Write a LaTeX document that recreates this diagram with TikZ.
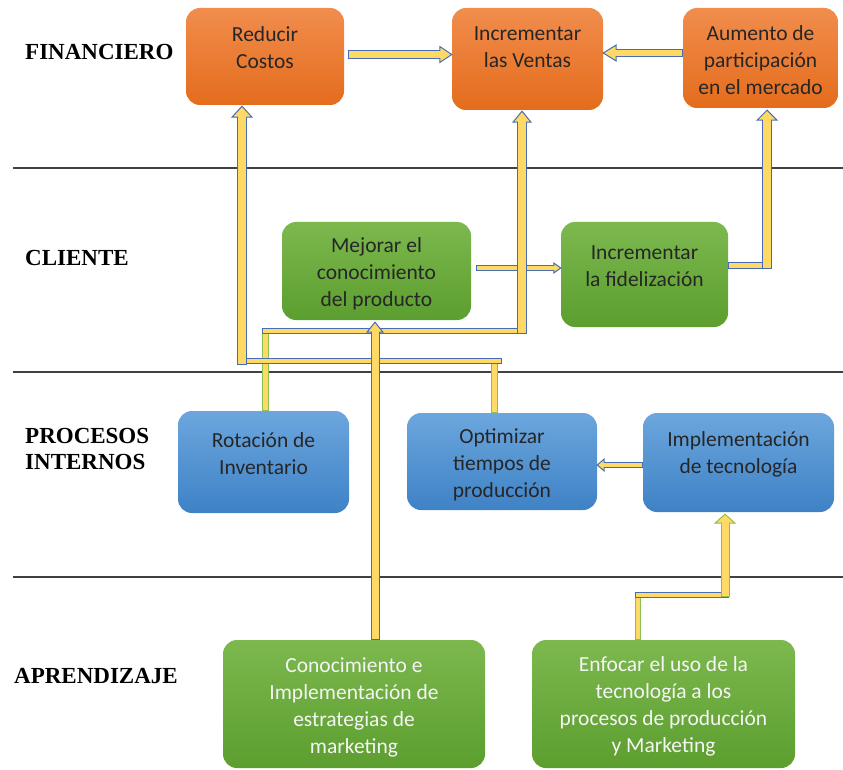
\documentclass[tikz,border=0pt]{standalone}
\usepackage{fontspec}
\setmainfont{Liberation Serif}
\newfontfamily\boxfont{Carlito}
\usetikzlibrary{calc}
\definecolor{ayel}{RGB}{255,217,102}
\definecolor{ablue}{RGB}{72,108,180}
\definecolor{agreen}{RGB}{140,193,82}
\definecolor{orT}{RGB}{241,141,77}
\definecolor{orB}{RGB}{228,108,28}
\definecolor{grT}{RGB}{124,184,78}
\definecolor{grB}{RGB}{92,158,47}
\definecolor{blT}{RGB}{108,166,221}
\definecolor{blB}{RGB}{62,130,198}
\definecolor{tdark}{RGB}{38,38,38}
\definecolor{tlight}{RGB}{245,245,245}
\definecolor{rulec}{RGB}{64,64,64}
\tikzset{
  box/.style={rounded corners=14pt, inner sep=0pt},
  orbox/.style={box, top color=orT, bottom color=orB},
  grbox/.style={box, top color=grT, bottom color=grB},
  blbox/.style={box, top color=blT, bottom color=blB},
  btext/.style={font=\boxfont\fontsize{21.5}{27}\selectfont, align=center, inner sep=0pt, text=tdark},
  wtext/.style={btext, text=tlight},
  lab/.style={font=\bfseries\fontsize{23}{26}\selectfont, align=left, anchor=west, inner sep=0pt},
  rulel/.style={draw=rulec, line width=1.5pt},
}
% straight piece of a block connector, no head
\newcommand\seg[3]{%
  \draw[draw=#1, line width={#2pt+2pt}, line join=miter] #3;
  \draw[draw=ayel, line width=#2pt, line join=miter, shorten <=1pt, shorten >=1pt] #3;}
% piece of a block connector that ends in a head
\newcommand\barrow[4]{%
  \draw[draw=#1, line width={#2pt+2pt}, line join=miter] #3;
  #4
  \draw[draw=ayel, line width=#2pt, line join=miter, shorten <=1pt, shorten >=-2pt] #3;}
\newcommand\headU[4]{\filldraw[fill=ayel, draw=#4, line width=1pt, line join=miter] #1 -- ++(-#2,#3) -- ++({2*#2},0) -- cycle;}
\newcommand\headR[4]{\filldraw[fill=ayel, draw=#4, line width=1pt, line join=miter] #1 -- ++(-#3,-#2) -- ++(0,{2*#2}) -- cycle;}
\newcommand\headL[4]{\filldraw[fill=ayel, draw=#4, line width=1pt, line join=miter] #1 -- ++(#3,-#2) -- ++(0,{2*#2}) -- cycle;}
\begin{document}
\begin{tikzpicture}[x=1pt, y=-1pt]
\useasboundingbox (0,0) rectangle (843,770);
% section rules
\draw[rulel] (13,168) -- (843,168);
\draw[rulel] (13,372) -- (843,372);
\draw[rulel] (13,577) -- (843,577);
% perspective labels
\node[lab] (lfin) at (25,52) {FINANCIERO};
\node[lab] (lcli) at (25,258) {CLIENTE};
\node[lab] (lpro) at (25,449) {PROCESOS\\INTERNOS};
\node[lab] (lapr) at (14,676) {APRENDIZAJE};
% boxes
\node[orbox, minimum width=158pt, minimum height=97pt] (red) at (265,56.5) {};
\node[orbox, minimum width=151pt, minimum height=102pt] (ven) at (527.5,59) {};
\node[orbox, minimum width=155pt, minimum height=100pt] (aum) at (760.5,58) {};
\node[grbox, minimum width=189pt, minimum height=98pt] (mej) at (376.5,271) {};
\node[grbox, minimum width=167pt, minimum height=105pt] (fid) at (644.5,274.5) {};
\node[blbox, minimum width=171pt, minimum height=102pt] (rot) at (263.5,462) {};
\node[blbox, minimum width=190pt, minimum height=97pt] (opt) at (502,461.5) {};
\node[blbox, minimum width=191pt, minimum height=99pt] (imp) at (738.5,462.5) {};
\node[grbox, minimum width=262pt, minimum height=128pt] (con) at (354,704) {};
\node[grbox, minimum width=263pt, minimum height=128pt] (enf) at (663.5,704) {};
% box texts
\node[btext] (redT) at (265,48) {Reducir\\Costos};
\node[btext] (venT) at (527.5,47) {Incrementar\\las Ventas};
\node[btext] (aumT) at (760.5,60) {Aumento de\\participación\\en el mercado};
\node[btext] (mejT) at (376.5,274) {Mejorar el\\conocimiento\\del producto};
\node[btext] (fidT) at (644.5,266.5) {Incrementar\\la fidelización};
\node[btext] (rotT) at (263.5,453.5) {Rotación de\\Inventario};
\node[btext] (optT) at (502,465) {Optimizar\\tiempos de\\producción};
\node[btext] (impT) at (738.5,454.5) {Implementación\\de tecnología};
\node[wtext] (conT) at (354,707) {Conocimiento e\\Implementación de\\estrategias de\\marketing};
\node[wtext] (enfT) at (663.5,706) {Enfocar el uso de la\\tecnología a los\\procesos de producción\\y Marketing};
% connector coordinates
\coordinate (f0) at ($(red.east)+(4,-2)$);
\coordinate (f1) at (f0 -| ven.west);
\coordinate (g0) at ($(aum.west)+(0,-5)$);
\coordinate (g1) at (g0 -| ven.east);
\coordinate (d0) at ($(mej.east)+(5,-3)$);
\coordinate (d1) at (d0 -| fid.west);
\coordinate (e0) at ($(fid.east)+(0,-9.5)$);
\coordinate (etip) at ($(aum.south)+(6.5,2)$);
\coordinate (e1) at (e0 -| etip);
\coordinate (a0) at ($(rot.north)+(1.5,0)$);
\coordinate (a1) at ($(a0)+(0,-80)$);
\coordinate (atip) at ($(ven.south)+(-5.5,1)$);
\coordinate (a2) at (a1 -| atip);
\coordinate (b0) at ($(opt.north)+(-8,0)$);
\coordinate (b1) at ($(b0)+(0,-52)$);
\coordinate (btip) at ($(red.south)+(-23,1)$);
\coordinate (b2) at (b1 -| btip);
\coordinate (ctip) at ($(mej.south)+(-1.5,2)$);
\coordinate (c0) at (con.north -| ctip);
\coordinate (h0) at ($(imp.west)+(0,2.5)$);
\coordinate (h1) at (h0 -| opt.east);
\coordinate (i0) at ($(enf.north)+(-25.5,0)$);
\coordinate (i1) at ($(i0)+(0,-45)$);
\coordinate (itip) at ($(imp.south)+(-13.5,2)$);
\coordinate (i2) at (i1 -| itip);
% connectors
\barrow{ablue}{7}{(f0) -- ($(f1)+(-12,0)$)}{\headR{(f1)}{8}{12}{ablue}}
\barrow{ablue}{6}{(g0) -- ($(g1)+(13,0)$)}{\headL{(g1)}{8}{13}{ablue}}
\barrow{ablue}{4}{(d0) -- ($(d1)+(-7,0)$)}{\headR{(d1)}{5}{7}{ablue}}
\seg{ablue}{5}{(e0) -- ($(e1)+(2,0)$)}
\barrow{ablue}{8}{($(e1)+(0,4)$) -- ($(etip)+(0,10)$)}{\headU{(etip)}{10}{10}{ablue}}
\seg{agreen}{5}{(a0) -- (a1)}
\seg{ablue}{4}{($(a1)+(-3,0)$) -- ($(a2)+(3,0)$)}
\barrow{ablue}{8}{($(a2)+(0,3)$) -- ($(atip)+(0,11)$)}{\headU{(atip)}{9}{11}{ablue}}
\seg{agreen}{5}{(b0) -- (b1)}
\seg{ablue}{4}{($(b1)+(8,0)$) -- ($(b2)+(-3,0)$)}
\barrow{ablue}{8}{($(b2)+(0,4)$) -- ($(btip)+(0,11)$)}{\headU{(btip)}{10}{11}{ablue}}
\barrow{ablue}{7}{(c0) -- ($(ctip)+(0,10)$)}{\headU{(ctip)}{8}{10}{ablue}}
\barrow{ablue}{4}{(h0) -- ($(h1)+(7,0)$)}{\headL{(h1)}{6}{7}{ablue}}
\seg{agreen}{4}{(i0) -- (i1)}
\seg{ablue}{4}{($(i1)+(-3,0)$) -- ($(i2)+(4,0)$)}
\barrow{agreen}{7}{($(i2)+(0,2)$) -- ($(itip)+(0,9)$)}{\headU{(itip)}{10}{9}{agreen}}
\end{tikzpicture}
\end{document}
